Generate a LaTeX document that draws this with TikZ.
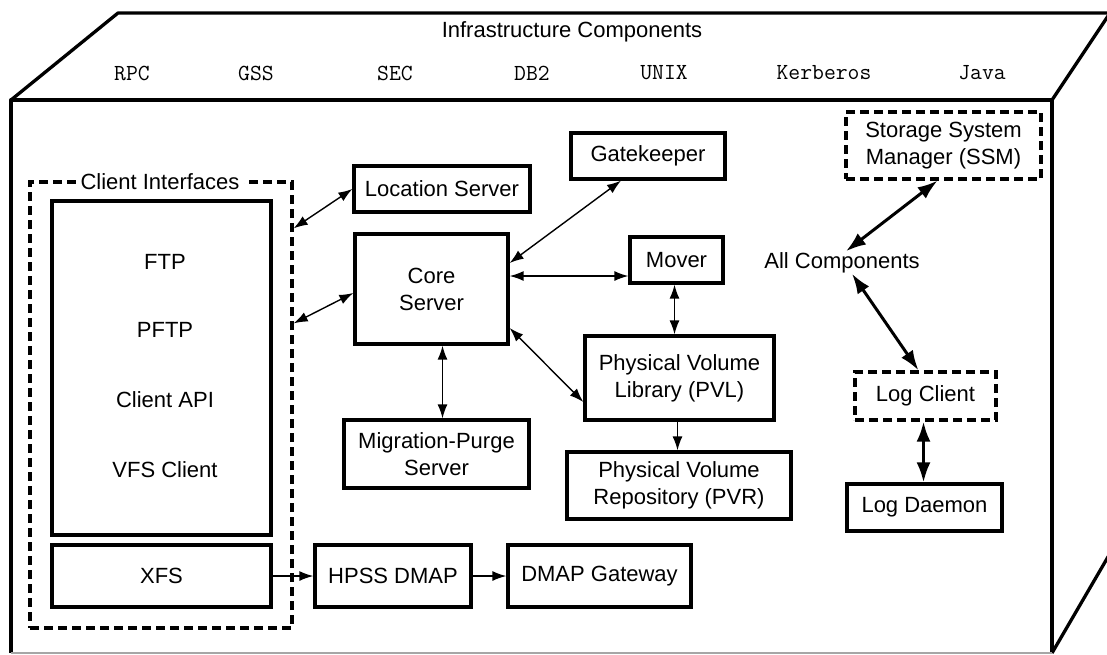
\documentclass[tikz,border=0pt]{standalone}
\usepackage{fontspec}
\setmainfont{Liberation Sans}
\usetikzlibrary{arrows.meta, positioning}
\tikzset{
    box/.style={rectangle, draw, line width=3.3pt, align=center, font=\fontsize{22}{27}\selectfont},
    dbox/.style={box, dash pattern=on 9pt off 5pt},
    label/.style={align=center, font=\fontsize{22}{27}\selectfont},
    infra/.style={font=\fontsize{23}{27}\selectfont\ttfamily},
    arrow/.style={line width=1.4pt, <->, >={Latex[length=14pt, width=10pt]}},
    onearrow/.style={line width=1.4pt, ->, >={Latex[length=14pt, width=10pt]}},
    bigarrow/.style={line width=3pt, <->, >={Latex[length=20pt, width=14pt]}},
    edge/.style={line width=3.3pt, line join=round}
}
\begin{document}
\begin{tikzpicture}[x=1pt, y=-1pt]
        \useasboundingbox (0,0) rectangle (1107,654);
        \fill[white] (0,0) rectangle (1107,654);
        \clip (0,0) rectangle (1107,654);

        % The cabinet
        \draw[edge] (11,653) -- (11,100) -- (1052,100) -- (1052,653);
        \draw[edge] (11,100) -- (118,13) -- (1112,13);
        \draw[edge] (1052,100) -- (1112,10);
        \draw[edge] (1052,653) -- (1112,550);
        \draw[line width=2pt, gray!70] (11,653) -- (1052,653);

        % Infrastructure components
        \node[label] (Infra) at (572,32) {Infrastructure Components};
        \node[infra] (RPC) at (132,73) {RPC};
        \node[infra] (GSS) at (256,73) {GSS};
        \node[infra] (SEC) at (395,73) {SEC};
        \node[infra] (DB2) at (532,73) {DB2};
        \node[infra] (UNIX) at (664,73) {UNIX};
        \node[infra] (Kerberos) at (824,73) {Kerberos};
        \node[infra] (Java) at (982,73) {Java};

        % Client interfaces
        \node[dbox, minimum width=262pt, minimum height=446pt] (CI) at (161,405) {};
        \node[label, fill=white, inner xsep=5pt, inner ysep=2pt] (CI_label) at (160,182) {Client Interfaces};
        \node[box, minimum width=219pt, minimum height=334pt] (Clients) at (161.5,368) {};
        \node[label] (FTP) at (165,262) {FTP};
        \node[label] (PFTP) at (165,330) {PFTP};
        \node[label] (API) at (165,400) {Client API};
        \node[label] (VFS) at (165,470) {VFS Client};
        \node[box, minimum width=219pt, minimum height=62pt] (XFS) at (161.5,576) {XFS};

        % Servers
        \node[box, minimum width=176pt, minimum height=46pt] (LS) at (442,189) {Location Server};
        \node[box, minimum width=153pt, minimum height=110pt] (Core) at (431.5,289) {Core\\Server};
        \node[box, minimum width=185pt, minimum height=68pt] (MPS) at (436.5,454) {Migration-Purge\\Server};
        \node[box, minimum width=154pt, minimum height=46pt] (Gatekeeper) at (648,156) {Gatekeeper};
        \node[box, minimum width=93pt, minimum height=46pt] (Mover) at (676.5,260) {Mover};
        \node[box, minimum width=189pt, minimum height=84pt] (PVL) at (679.5,378) {Physical Volume\\Library (PVL)};
        \node[box, minimum width=224pt, minimum height=67pt] (PVR) at (679,485.5) {Physical Volume\\Repository (PVR)};
        \node[box, minimum width=156pt, minimum height=62pt] (HPSS) at (393,576) {HPSS DMAP};
        \node[box, minimum width=183pt, minimum height=62pt] (Gateway) at (599.5,576) {DMAP Gateway};

        % System management and logging
        \node[dbox, minimum width=195pt, minimum height=67pt] (SSM) at (943.5,145.5) {Storage System\\Manager (SSM)};
        \node[label] (All) at (842,263) {All Components};
        \node[dbox, minimum width=141pt, minimum height=48pt] (LogClient) at (925.5,396) {Log Client};
        \node[box, minimum width=155pt, minimum height=47pt] (LogDaemon) at (924.5,507.5) {Log Daemon};

        % Flow arrows
        \draw[arrow] ([yshift=-48pt]CI.north east) -- (LS.west);
        \draw[arrow] ([yshift=-143pt]CI.north east) -- ([yshift=-4pt]Core.west);
        \draw[arrow] ([yshift=26pt]Core.east) -- ([xshift=-27pt]Gatekeeper.south);
        \draw[arrow] ([yshift=13pt]Core.east) -- ([yshift=13pt]Core.east -| Mover.west);
        \draw[arrow] ([xshift=-2pt]Mover.south) -- ([xshift=-2pt]Mover.south |- PVL.north);
        \draw[arrow] ([yshift=-39pt]Core.east) -- ([yshift=-24pt]PVL.west);
        \draw[arrow] ([xshift=11pt]Core.south) -- ([xshift=11pt]Core.south |- MPS.north);
        \draw[onearrow] ([xshift=-2pt]PVL.south) -- ([xshift=-2pt]PVL.south |- PVR.north);
        \draw[onearrow] (XFS.east) -- (HPSS.west);
        \draw[onearrow] (HPSS.east) -- (Gateway.west);
        \draw[bigarrow] ([xshift=-6pt]SSM.south) -- ([xshift=4pt, yshift=-2pt]All.north);
        \draw[bigarrow] ([xshift=10pt, yshift=3pt]All.south) -- ([xshift=-7pt]LogClient.north);
        \draw[bigarrow] ([xshift=-2pt]LogClient.south) -- ([xshift=-2pt]LogClient.south |- LogDaemon.north);
    \end{tikzpicture}
\end{document}
